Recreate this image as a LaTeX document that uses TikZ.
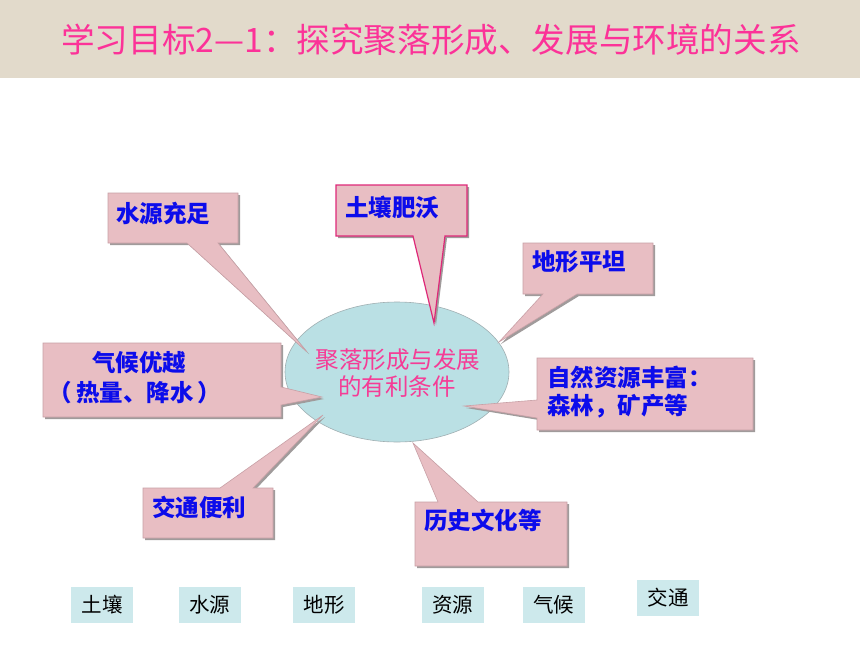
\documentclass[tikz,border=0pt]{standalone}
\usepackage{fontspec}
\setmainfont{Noto Sans CJK SC}
\usetikzlibrary{shapes.geometric}
\definecolor{band}{RGB}{226,218,203}
\definecolor{titlepink}{RGB}{252,50,152}
\definecolor{callfill}{RGB}{232,190,195}
\definecolor{calledge}{RGB}{200,160,166}
\definecolor{shadowgrey}{RGB}{160,155,155}
\definecolor{ellfill}{RGB}{186,224,228}
\definecolor{elledge}{RGB}{160,175,178}
\definecolor{ellpink}{RGB}{245,60,150}
\definecolor{tagfill}{RGB}{205,233,236}
\definecolor{soilpink}{RGB}{222,40,120}
\definecolor{txtblue}{RGB}{12,12,235}
\newcommand{\mycallout}[2][]{%
  \fill[shadowgrey,shift={(2,2)}] #2;
  \draw[callbox,#1] #2;}
\tikzset{
  callbox/.style={fill=callfill,draw=calledge,line width=0.6pt,line join=miter},
  calltext/.style={font=\bfseries\fontsize{23.5}{28}\selectfont,text=txtblue,inner sep=0pt,anchor=west},
  coretext/.style={font=\fontsize{23.5}{27}\selectfont,text=ellpink,inner sep=0pt},
  tagbox/.style={fill=tagfill,minimum width=62pt,minimum height=36pt,inner sep=0pt,font=\fontsize{20.5}{24}\selectfont,text=black},
}
\begin{document}
\begin{tikzpicture}[x=1pt,y=-1pt]
\useasboundingbox (0,0) rectangle (860,645);
\fill[white] (0,0) rectangle (860,645);
% title band
\fill[band] (0,0) rectangle (860,78);
\node[font=\fontsize{33.6}{36}\selectfont,text=titlepink,inner sep=0pt] (title) at (431,40) {学习目标2—1：探究聚落形成、发展与环境的关系};
% central ellipse
\node[ellipse,fill=ellfill,draw=elledge,line width=0.6pt,minimum width=224pt,minimum height=140pt,inner sep=0pt] (core) at (397,372) {};
% callouts
\mycallout{(108,193) -- (238,193) -- (238,243) -- (218,243) -- (307,352) -- (187,243) -- (108,243) -- cycle}
\mycallout[draw=soilpink,line width=1.2pt]{(336,185) -- (467,185) -- (467,236) -- (445,236) -- (434,323) -- (413,236) -- (336,236) -- cycle}
\mycallout{(523,243) -- (653,243) -- (653,294) -- (577,294) -- (499,342) -- (543,294) -- (523,294) -- cycle}
\mycallout{(537,358) -- (753,358) -- (753,430) -- (537,430) -- (537,418) -- (464,406) -- (537,400) -- cycle}
\mycallout{(43,343) -- (281,343) -- (281,387) -- (322,397) -- (281,405) -- (281,417) -- (43,417) -- cycle}
\mycallout{(143,488) -- (220,488) -- (323,415) -- (253,488) -- (273,488) -- (273,538) -- (143,538) -- cycle}
\mycallout{(415,502) -- (438,502) -- (413,443) -- (478,502) -- (567,502) -- (567,566) -- (415,566) -- cycle}
% core text
\node[coretext] (core1) at (398,360) {聚落形成与发展};
\node[coretext] (core2) at (397,387) {的有利条件};
% callout texts
\node[calltext] (water) at (116,213) {水源充足};
\node[calltext] (soil) at (345,207) {土壤肥沃};
\node[calltext] (land) at (532,262) {地形平坦};
\node[calltext] (res1) at (547,377) {自然资源丰富：};
\node[calltext] (res2) at (547,406) {森林，矿产等};
\node[calltext,anchor=center] (clim1) at (139,363) {气候优越};
\node[calltext,anchor=center] (clim2) at (135,393) {（\,热量、降水\,）};
\node[calltext] (traf) at (152,507) {交通便利};
\node[calltext] (hist) at (424,520) {历史文化等};
% bottom tags
\node[tagbox] (t1) at (102,605) {土壤};
\node[tagbox] (t2) at (209.5,605) {水源};
\node[tagbox] (t3) at (324,605) {地形};
\node[tagbox] (t4) at (452.5,605) {资源};
\node[tagbox] (t5) at (553.5,605) {气候};
\node[tagbox] (t6) at (668,598) {交通};
\end{tikzpicture}
\end{document}
